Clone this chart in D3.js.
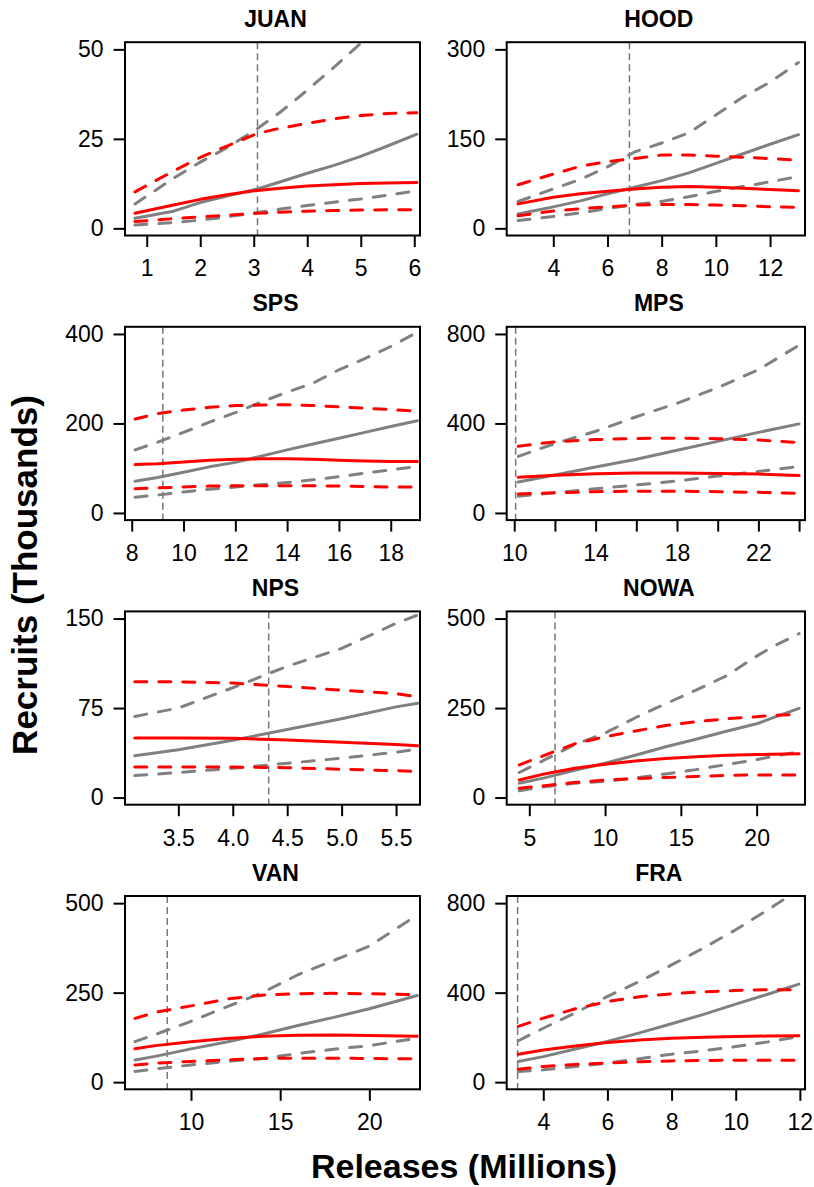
<!DOCTYPE html>
<html>
<head>
<meta charset="utf-8">
<script src="https://cdn.jsdelivr.net/npm/d3@7"></script>
<style>
  body { margin: 0; background: #fff; }
  svg { display: block; font-family: "Liberation Sans", Arial, sans-serif; }
</style>
</head>
<body>
<svg id="chart" width="814" height="1187"></svg>
<script>
// Stock names, one panel each (two columns, four rows)
const stocks = ["JUAN", "HOOD", "SPS", "MPS", "NPS", "NOWA", "VAN", "FRA"];

// Releases (millions) at which the recruit curves are evaluated
const releasesGrid = [
  [0.78, 1.5, 2, 2.5, 3.07, 3.5, 4, 4.5, 5, 5.5, 6.05],
  [2.7, 4, 5, 6, 7, 8, 9, 10, 11, 12, 13.05],
  [8.13, 9, 10, 11, 12, 13, 14, 15, 16, 17, 18, 19.03],
  [10.2, 12, 14, 16, 18, 20, 22, 24],
  [3.1, 3.5, 4.0, 4.5, 5.0, 5.5, 5.7],
  [4.34, 6, 8, 10, 12, 14, 16, 18, 20, 21, 22.8],
  [6.86, 8, 10, 12, 14, 16, 18, 20, 22.69],
  [3.22, 4, 5, 6, 7, 8, 9, 10, 11, 11.97]
];

// Density-dependent model (red): median and interval bounds, thousands of recruits
const ddMid = [
  [4.2, 6.5, 8.1, 9.4, 10.6, 11.2, 11.8, 12.2, 12.5, 12.7, 12.8],
  [41, 52, 58, 62, 66, 69, 70, 69, 67, 65, 63],
  [108, 110, 114, 118, 120, 121, 121, 120, 118, 116, 115, 115],
  [159, 168, 175, 178, 178, 176, 174, 167],
  [50, 50, 49.6, 48.2, 46.3, 44.5, 43.5],
  [49, 66, 82, 93, 102, 109, 114, 118, 120, 121, 122],
  [93, 102, 113, 122, 128, 131, 132, 130, 128],
  [125, 144, 162, 177, 188, 196, 201, 204, 206, 207]
];
const ddLo = [
  [1.9, 2.7, 3.2, 3.7, 4.2, 4.5, 4.8, 5.0, 5.1, 5.2, 5.2],
  [21, 29, 33, 36, 39, 40, 40, 39, 38, 36, 35],
  [54, 56, 58, 60, 61, 61, 61, 61, 60, 59, 58, 58],
  [85, 90, 95, 97, 97, 95, 92, 88],
  [25.6, 25.6, 25.5, 25, 23.7, 22.5, 21.8],
  [26, 33, 42, 49, 53, 56, 59, 62, 63, 63, 63],
  [48, 53, 58, 62, 66, 67, 67, 66, 65],
  [58, 70, 79, 85, 91, 95, 97, 98, 98, 98]
];
const ddHi = [
  [10.2, 16, 19.8, 23, 26.5, 28, 29.3, 30.6, 31.5, 32.1, 32.3],
  [73, 91, 104, 112, 117, 123, 123, 121, 119, 117, 114],
  [210, 222, 230, 236, 240, 241, 242, 240, 237, 234, 231, 227],
  [298, 318, 328, 333, 334, 332, 326, 315],
  [97, 97, 96, 93, 90, 87, 84.5],
  [91, 118, 150, 170, 186, 201, 212, 220, 226, 229, 233],
  [178, 195, 213, 232, 243, 247, 248, 247, 244],
  [249, 286, 328, 360, 382, 395, 404, 410, 413, 413]
];

// Density-independent model (grey): median and interval bounds
const diMid = [
  [2.8, 4.8, 7.2, 9.0, 11.0, 13, 15.4, 17.6, 20.1, 23, 26.3],
  [24, 36, 46, 58, 69, 80, 93, 109, 125, 141, 157],
  [71, 79, 91, 103, 113, 127, 141, 154, 167, 180, 193, 206],
  [138, 170, 205, 240, 280, 320, 360, 398],
  [35, 40, 48, 57, 66, 76, 79],
  [40, 55, 76, 96, 118, 142, 163, 185, 206, 222, 249],
  [62, 72, 93, 112, 134, 158, 181, 205, 242],
  [92, 114, 148, 182, 220, 261, 303, 349, 393, 438]
];
const diLo = [
  [0.9, 1.6, 2.3, 3.2, 4.4, 5.4, 6.4, 7.3, 8.2, 9.3, 10.5],
  [13, 20, 26, 33, 40, 45, 53, 62, 70, 78, 87],
  [35, 40, 47, 53, 58, 63, 68, 74, 81, 89, 96, 104],
  [75, 90, 108, 125, 143, 165, 185, 208],
  [18.4, 21, 24.5, 28.7, 33, 38, 40.7],
  [19, 30, 40, 45, 55, 66, 78, 92, 106, 114, 128],
  [30, 37, 48, 58, 66, 80, 92, 102, 123],
  [48, 55, 70, 85, 105, 125, 140, 159, 180, 204]
];
const diHi = [
  [6.8, 14, 18.5, 22.5, 27.9, 32.5, 38.6, 45, 51.7, 59, 67],
  [45, 66, 82, 103, 128, 143, 160, 190, 220, 245, 278],
  [141, 158, 180, 203, 224, 248, 270, 290, 320, 345, 372, 404],
  [253, 310, 365, 430, 490, 560, 640, 750],
  [68, 75, 92, 110, 125, 146, 153],
  [70, 105, 148, 180, 223, 262, 300, 340, 395, 420, 458],
  [113, 133, 170, 210, 250, 300, 340, 380, 467],
  [185, 241, 310, 383, 450, 524, 600, 681, 770, 860]
];

// Current release level marked by the dashed vertical line
const refRelease = [3.07, 6.81, 9.2, 10.07, 4.33, 6.7, 8.67, 3.2];

// Axis limits and ticks
const yMax = [50, 300, 400, 800, 150, 500, 500, 800];
const xLimits = [
  [0.594, 6.107], [2.28, 13.29], [7.74, 19.13], [9.63, 24.29],
  [3.01, 5.72], [3.51, 23.19], [6.30, 22.84], [2.86, 12.16]
];
const xTicks = [
  [1, 2, 3, 4, 5, 6],
  [4, 6, 8, 10, 12],
  [8, 10, 12, 14, 16, 18],
  [10, 12, 14, 16, 18, 20, 22, 24],
  [3.5, 4.0, 4.5, 5.0, 5.5],
  [5, 10, 15, 20],
  [10, 15, 20],
  [4, 6, 8, 10, 12]
];
const xTickLabels = [
  ["1", "2", "3", "4", "5", "6"],
  ["4", "6", "8", "10", "12"],
  ["8", "10", "12", "14", "16", "18"],
  ["10", "", "14", "", "18", "", "22", ""],
  ["3.5", "4.0", "4.5", "5.0", "5.5"],
  ["5", "10", "15", "20"],
  ["10", "15", "20"],
  ["4", "6", "8", "10", "12"]
];

// ---- layout ----
const svg = d3.select("#chart");
const colLeft = [125, 506.7];
const colWidth = [295, 298.3];
const firstTop = 42.2, rowStep = 284.6, boxH = 193.3;
const tickLen = 11.5;

const RED = "#ff0000", GREY = "#808080";

const seriesStyle = [
  { data: diLo,  color: GREY, dash: "12,12" },
  { data: diHi,  color: GREY, dash: "12,12" },
  { data: diMid, color: GREY, dash: null },
  { data: ddLo,  color: RED,  dash: "12,12" },
  { data: ddHi,  color: RED,  dash: "12,12" },
  { data: ddMid, color: RED,  dash: null }
];

stocks.forEach((name, i) => {
  const col = i % 2, row = Math.floor(i / 2);
  const left = colLeft[col], w = colWidth[col];
  const top = firstTop + row * rowStep;

  const x = d3.scaleLinear().domain(xLimits[i]).range([left, left + w]);
  const pad = 0.04 * yMax[i];
  const y = d3.scaleLinear().domain([-pad, yMax[i] + pad]).range([top + boxH, top]);

  const g = svg.append("g");

  const clipId = "clip-" + name;
  g.append("clipPath").attr("id", clipId)
    .append("rect").attr("x", left).attr("y", top).attr("width", w).attr("height", boxH);

  const plot = g.append("g").attr("clip-path", `url(#${clipId})`);

  // reference release line
  plot.append("line")
    .attr("x1", x(refRelease[i])).attr("x2", x(refRelease[i]))
    .attr("y1", top).attr("y2", top + boxH)
    .attr("stroke", "#777").attr("stroke-width", 1.5)
    .attr("stroke-dasharray", "7,4");

  const line = d3.line()
    .x((d, k) => x(releasesGrid[i][k]))
    .y(d => y(d));

  seriesStyle.forEach(s => {
    plot.append("path")
      .datum(s.data[i])
      .attr("d", line)
      .attr("fill", "none")
      .attr("stroke", s.color)
      .attr("stroke-width", 3)
      .attr("stroke-linecap", "round")
      .attr("stroke-linejoin", "round")
      .attr("stroke-dasharray", s.dash);
  });

  // y axis
  const yAxis = d3.axisLeft(y)
    .tickValues([0, yMax[i] / 2, yMax[i]])
    .tickSize(tickLen).tickPadding(10)
    .tickFormat(d3.format("d"));
  const ya = g.append("g").attr("transform", `translate(${left},0)`).call(yAxis);
  ya.select(".domain").remove();
  ya.selectAll(".tick line").attr("stroke", "#000").attr("stroke-width", 2);
  ya.selectAll(".tick text").attr("font-size", 23).attr("fill", "#000")
    .attr("font-family", "'Liberation Sans', Arial, sans-serif");

  // x axis
  const labels = xTickLabels[i];
  const xAxis = d3.axisBottom(x)
    .tickValues(xTicks[i])
    .tickSize(tickLen).tickPadding(13)
    .tickFormat((d, k) => labels[k]);
  const xa = g.append("g").attr("transform", `translate(0,${top + boxH})`).call(xAxis);
  xa.select(".domain").remove();
  xa.selectAll(".tick line").attr("stroke", "#000").attr("stroke-width", 2);
  xa.selectAll(".tick text").attr("font-size", 23).attr("fill", "#000")
    .attr("font-family", "'Liberation Sans', Arial, sans-serif");

  // frame
  g.append("rect")
    .attr("x", left).attr("y", top).attr("width", w).attr("height", boxH)
    .attr("fill", "none").attr("stroke", "#000").attr("stroke-width", 2);

  // panel title
  g.append("text")
    .attr("x", left + w / 2 + 3).attr("y", top - 15.5)
    .attr("text-anchor", "middle")
    .attr("font-size", 23).attr("font-weight", "bold")
    .text(name);
});

// outer axis titles
svg.append("text")
  .attr("transform", "translate(37,575) rotate(-90)")
  .attr("text-anchor", "middle")
  .attr("font-size", 35).attr("font-weight", "bold")
  .text("Recruits (Thousands)");

svg.append("text")
  .attr("x", 464).attr("y", 1178)
  .attr("text-anchor", "middle")
  .attr("font-size", 34).attr("font-weight", "bold")
  .text("Releases (Millions)");
</script>
</body>
</html>
